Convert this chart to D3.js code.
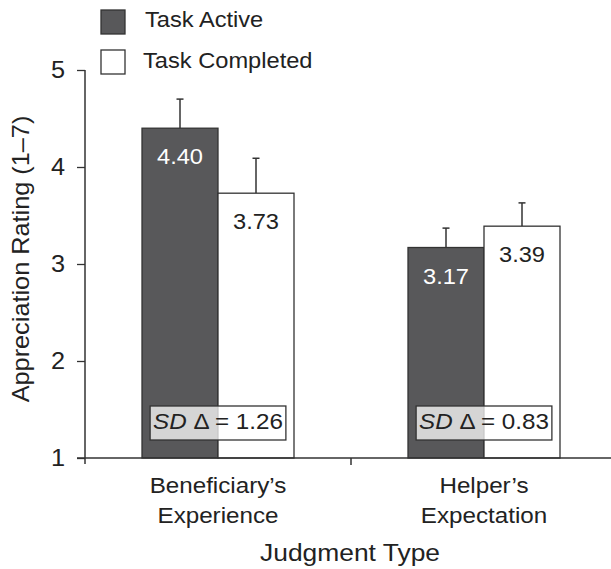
<!DOCTYPE html>
<html><head><meta charset="utf-8">
<script src="https://cdn.jsdelivr.net/npm/d3@7"></script>
<style>body{margin:0;background:#fff}svg{display:block;font-family:"Liberation Sans",Arial,sans-serif}</style>
</head><body><svg id="c" width="611" height="569"></svg>
<script>
const categories = ["Beneficiary’s\nExperience", "Helper’s\nExpectation"];
const series = ["Task Active", "Task Completed"];
const taskActive = [4.40, 3.17];
const taskCompleted = [3.73, 3.39];
const errActive = [0.30, 0.20];
const errCompleted = [0.36, 0.24];
const sdDelta = ["1.26", "0.83"];
const yTicks = [1, 2, 3, 4, 5];

const colors = {"Task Active": "#58585a", "Task Completed": "#ffffff"};
const SX = 1.1;
const svg = d3.select("#c");
const y = d3.scaleLinear().domain([1, 5]).range([458, 70]);
const x0 = d3.scaleBand().domain(categories).range([85, 617]).padding(0);
const barW = 76;
const x1 = d3.scaleBand().domain(series).range([0, 2 * barW]).padding(0);

function txt(parent, x, yy, str, size, anchor, rot) {
  return parent.append("text")
    .attr("transform", `translate(${x},${yy})` + (rot ? ` rotate(${rot})` : "") + ` scale(${SX},1)`)
    .attr("text-anchor", anchor || "start").attr("font-size", size).attr("fill", "#222").text(str);
}

const rows = [];
categories.forEach((c, i) => {
  rows.push({cat: c, s: "Task Active", v: taskActive[i], e: errActive[i]});
  rows.push({cat: c, s: "Task Completed", v: taskCompleted[i], e: errCompleted[i]});
});
const bx = d => x0(d.cat) + x0.bandwidth() / 2 - barW + x1(d.s);

// error bars
const eg = svg.append("g").attr("stroke", "#333").attr("stroke-width", 1.5);
rows.forEach(d => {
  const cx = bx(d) + barW / 2;
  eg.append("line").attr("x1", cx).attr("x2", cx).attr("y1", y(d.v)).attr("y2", y(d.v + d.e));
  eg.append("line").attr("x1", cx - 3.5).attr("x2", cx + 3.5).attr("y1", y(d.v + d.e)).attr("y2", y(d.v + d.e));
});

// bars
svg.append("g").selectAll("rect").data(rows).join("rect")
  .attr("x", bx).attr("width", barW)
  .attr("y", d => y(d.v)).attr("height", d => y(1) - y(d.v))
  .attr("fill", d => colors[d.s]).attr("stroke", "#333").attr("stroke-width", 1.3);

// value labels
const vl = svg.append("g");
rows.forEach(d => {
  txt(vl, bx(d) + barW / 2, y(d.v) + 36, d.v.toFixed(2), 21.5, "middle")
    .attr("fill", d.s === "Task Active" ? "#fff" : "#222");
});

// SD boxes
categories.forEach((c, i) => {
  const cx = x0(c) + x0.bandwidth() / 2;
  const g = svg.append("g");
  const t = txt(g, cx, 429, "", 22, "middle");
  t.append("tspan").attr("font-style", "italic").text("SD");
  t.append("tspan").text(" Δ = " + sdDelta[i]);
  const w = t.node().getBBox().width * SX;
  g.insert("rect", "text").attr("x", cx - w / 2 - 3).attr("y", 406).attr("width", w + 6).attr("height", 34)
    .attr("fill", "#fff").attr("fill-opacity", 0.75).attr("stroke", "#333").attr("stroke-width", 1.3);
});

// y axis
const ya = svg.append("g").attr("transform", "translate(85,0)")
  .call(d3.axisLeft(y).tickValues(yTicks).tickFormat("").tickSize(8));
ya.select(".domain").attr("d", "M0,70V464").attr("stroke", "#333").attr("stroke-width", 1.5);
ya.selectAll("line").attr("stroke", "#333").attr("stroke-width", 1.3);
const yl = svg.append("g");
yTicks.forEach(v => txt(yl, 65, y(v) + 8, d3.format("d")(v), 23, "end"));

// x axis
const xg = svg.append("g").attr("stroke", "#333").attr("stroke-width", 1.5);
xg.append("line").attr("x1", 77).attr("x2", 611).attr("y1", y(1)).attr("y2", y(1));
xg.append("line").attr("x1", x0(categories[1])).attr("x2", x0(categories[1])).attr("y1", y(1)).attr("y2", y(1) + 7);

categories.forEach(c => {
  const cx = x0(c) + x0.bandwidth() / 2;
  c.split("\n").forEach((ln, k) => txt(svg, cx, 493 + k * 30, ln, 22, "middle"));
});

txt(svg, 350, 561, "Judgment Type", 24, "middle");
txt(svg, 29, 259, "Appreciation Rating (1–7)", 23, "middle", -90);

// legend
series.forEach((s, i) => {
  svg.append("rect").attr("x", 101).attr("y", 10 + i * 40).attr("width", 24).attr("height", 24)
    .attr("fill", colors[s]).attr("stroke", "#333").attr("stroke-width", 1.3);
  txt(svg, i === 0 ? 145 : 143, 27 + i * 41, s, 21.5, "start");
});
</script></body></html>
